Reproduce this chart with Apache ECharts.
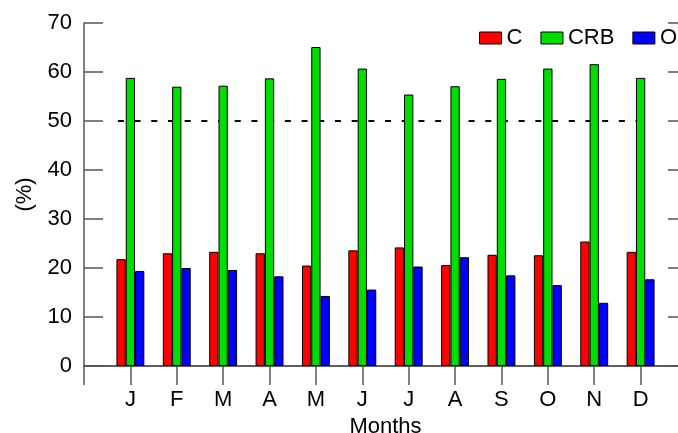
<!DOCTYPE html>
<html>
<head>
<meta charset="utf-8">
<script src="https://cdn.jsdelivr.net/npm/echarts@6/dist/echarts.min.js"></script>
<style>
html,body{margin:0;padding:0;background:#fff;}
#chart{width:678px;height:433px;}
</style>
</head>
<body>
<div id="chart"></div>
<script>
var months = ['J','F','M','A','M','J','J','A','S','O','N','D'];
var seriesNames = ['C','CRB','O'];
var valuesC   = [21.8, 23.0, 23.3, 23.0, 20.5, 23.6, 24.2, 20.6, 22.7, 22.6, 25.4, 23.3];
var valuesCRB = [58.8, 57.0, 57.2, 58.7, 65.1, 60.7, 55.4, 57.1, 58.6, 60.7, 61.6, 58.8];
var valuesO   = [19.4, 20.0, 19.6, 18.3, 14.3, 15.6, 20.3, 22.2, 18.5, 16.5, 12.9, 17.7];
var yTicks = [0, 10, 20, 30, 40, 50, 60, 70];
var threshold = 50;
var thresholdSpan = [0.73, 12.25];

var FONT = 'Liberation Sans, Arial, sans-serif';
var AX = '#555';

function pad(arr){ return [null].concat(arr).concat([null]); }
var cats = [''].concat(months).concat(['']);

var chart = echarts.init(document.getElementById('chart'), null, {renderer:'canvas'});
var option = {
  animation: false,
  backgroundColor: '#fff',
  textStyle: {fontFamily: FONT},
  grid: {left: 84, top: 23, right: -9, bottom: 67, containLabel: false, outerBoundsMode: 'none'},
  legend: {
    data: seriesNames,
    right: 1, top: 27, padding: 0,
    itemWidth: 22, itemHeight: 12, itemGap: 18,
    icon: 'rect',
    itemStyle: {borderColor: '#000', borderWidth: 1},
    textStyle: {fontSize: 22, color: '#000', fontFamily: FONT}
  },
  xAxis: [{
    type: 'category',
    data: cats,
    boundaryGap: false,
    position: 'bottom',
    name: 'Months',
    nameLocation: 'middle',
    nameGap: 44,
    nameTextStyle: {fontSize: 22, color: '#000', fontFamily: FONT},
    axisLine: {show: true, onZero: false, lineStyle: {color: AX, width: 1.5}},
    axisTick: {show: true, inside: false, length: 19, interval: 0, lineStyle: {color: AX, width: 1.5}},
    axisLabel: {show: true, interval: 0, margin: 23, fontSize: 22, color: '#000', fontFamily: FONT},
    splitLine: {show: false}
  }, {
    type: 'value',
    position: 'top',
    min: 0, max: 13,
    axisLine: {show: true, lineStyle: {color: AX, width: 1.5}},
    axisTick: {show: false},
    axisLabel: {show: false},
    splitLine: {show: false}
  }],
  yAxis: [{
    type: 'value',
    min: yTicks[0], max: yTicks[yTicks.length-1], interval: 10,
    position: 'left',
    name: '(%)',
    nameLocation: 'middle',
    nameGap: 48,
    nameTextStyle: {fontSize: 22, color: '#000', fontFamily: FONT},
    axisLine: {show: true, lineStyle: {color: AX, width: 1.5}},
    axisTick: {show: true, inside: true, length: 19, lineStyle: {color: AX, width: 1.5}},
    axisLabel: {margin: 12, fontSize: 22, color: '#000', fontFamily: FONT},
    splitLine: {show: false}
  }, {
    type: 'value',
    min: yTicks[0], max: yTicks[yTicks.length-1], interval: 10,
    position: 'right',
    axisLine: {show: true, lineStyle: {color: AX, width: 1.5}},
    axisTick: {show: true, inside: true, length: 19, lineStyle: {color: AX, width: 1.5}},
    axisLabel: {show: false},
    splitLine: {show: false}
  }],
  series: [{
    name: 'threshold',
    type: 'line',
    xAxisIndex: 1, yAxisIndex: 0,
    data: [[thresholdSpan[0], threshold], [thresholdSpan[1], threshold]],
    symbol: 'none',
    silent: true,
    z: 1,
    lineStyle: {color: '#000', width: 2, type: [6, 10.7]}
  }, {
    name: seriesNames[0], type: 'bar', xAxisIndex: 0, yAxisIndex: 0,
    data: pad(valuesC), barWidth: 9.3, barGap: '0%', z: 3,
    itemStyle: {color: '#ff0000', borderColor: '#000', borderWidth: 1}
  }, {
    name: seriesNames[1], type: 'bar', xAxisIndex: 0, yAxisIndex: 0,
    data: pad(valuesCRB), barWidth: 9.3, barGap: '0%', z: 3,
    itemStyle: {color: '#00dd00', borderColor: '#000', borderWidth: 1}
  }, {
    name: seriesNames[2], type: 'bar', xAxisIndex: 0, yAxisIndex: 0,
    data: pad(valuesO), barWidth: 9.3, barGap: '0%', z: 3,
    itemStyle: {color: '#0000ff', borderColor: '#000', borderWidth: 1}
  }]
};
chart.setOption(option);
</script>
</body>
</html>
